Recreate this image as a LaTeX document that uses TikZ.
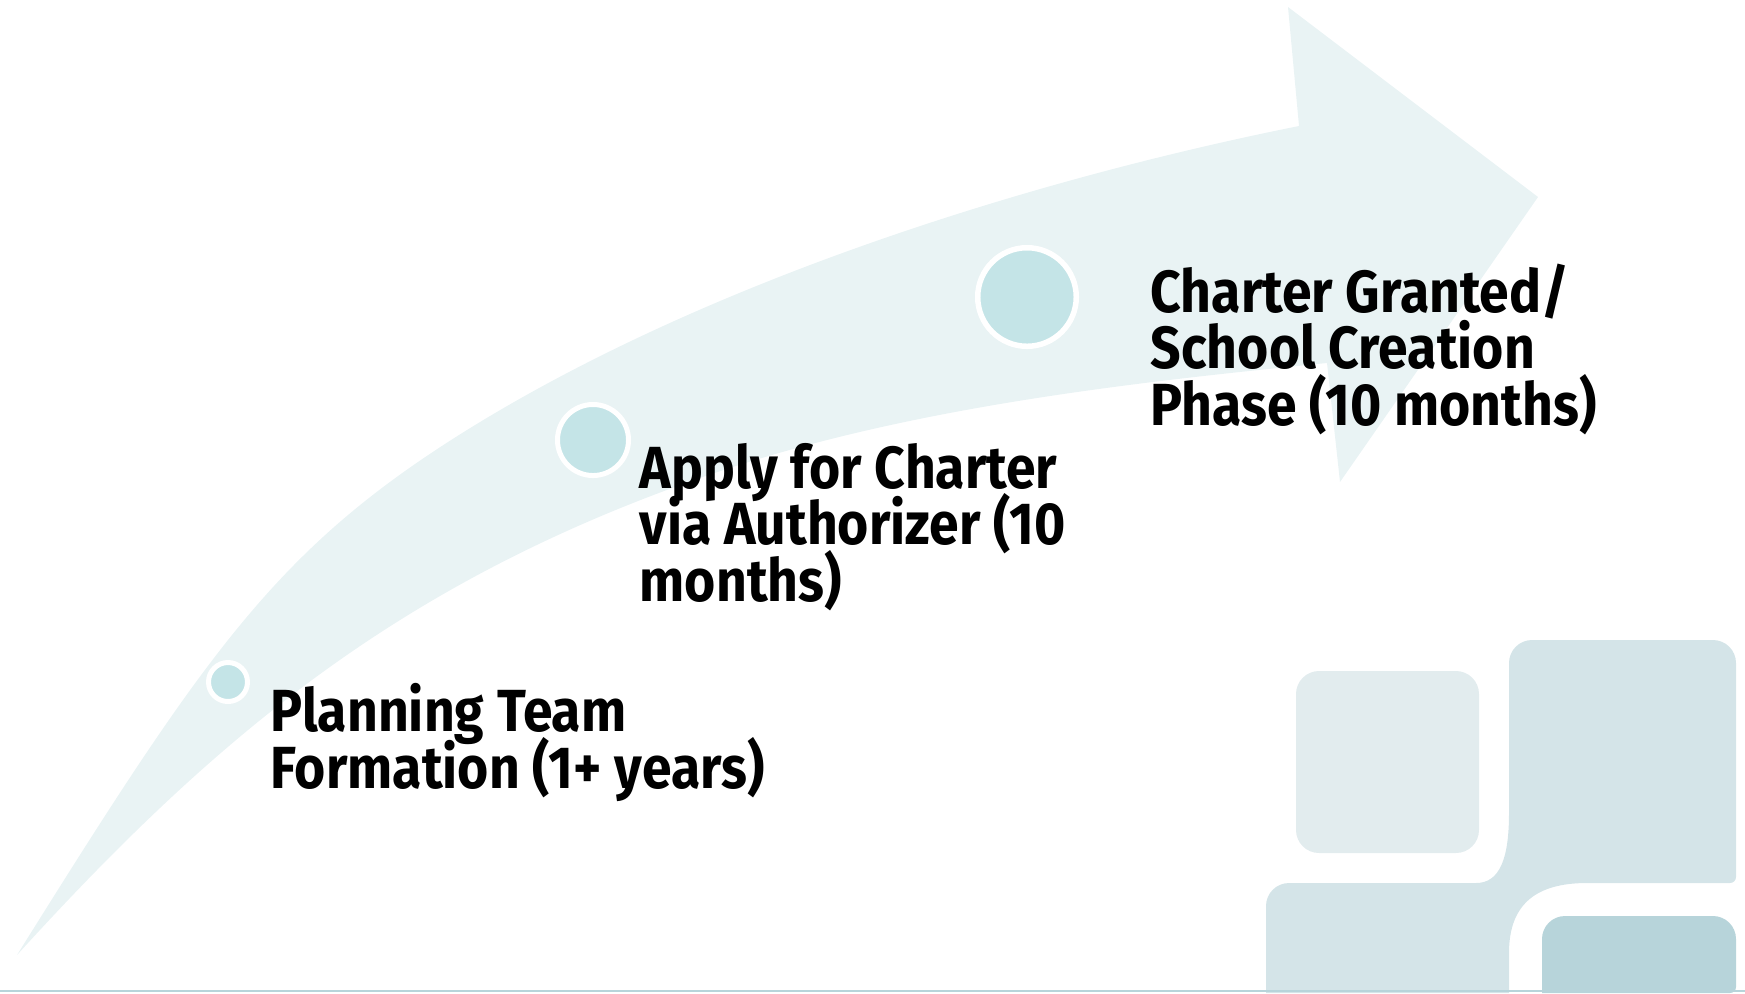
\documentclass[tikz,border=0pt]{standalone}
\usepackage{fontspec}
\setmainfont{Fira Sans}[FakeStretch=0.9]
\definecolor{bandcol}{RGB}{233,243,244}
\definecolor{dotcol}{RGB}{196,228,231}
\definecolor{tilelight}{RGB}{226,236,238}
\definecolor{tilemid}{RGB}{212,228,232}
\definecolor{tiledark}{RGB}{183,212,218}
\newcommand{\phasefont}{\fontsize{16.9}{15.94}\selectfont\bfseries\lineskiplimit=-20pt}

\begin{document}
\begin{tikzpicture}[x=0.01cm, y=-0.01cm, line cap=round,
    dot/.style={circle, fill=dotcol, draw=white, inner sep=0pt},
    phase/.style={anchor=base west, align=left, inner sep=0pt, font=\phasefont}]
        %\draw [step=1cm, very thin, lightgray] (0,0) grid (1745,993);
        \useasboundingbox (0,0) rectangle (1745,993);

        \fill [bandcol] (17,955) .. controls (207,651) and (277,548) .. (467,430)
        .. controls (717,275) and (1049,176) .. (1299,126)
        -- (1288,7) -- (1538,197) -- (1340,482) -- (1327,363)
        .. controls (1127,383) and (900,408) .. (700,478)
        .. controls (400,583) and (217,735) .. (17,955) -- cycle;

        \fill [tilelight, rounded corners=0.23cm] (1296,671) rectangle (1479,853);
        \fill [tilemid] (1266,993) [rounded corners=0.23cm] -- (1266,883) -- (1453,883) [sharp corners]
        .. controls (1500,883) and (1509,858) .. (1509,813) -- (1509,700) [rounded corners=0.23cm] --
        (1509,640) -- (1736,640) [rounded corners=0.06cm] -- (1736,883) -- (1593,883) [sharp corners]
        .. controls (1535,883) and (1509,905) .. (1509,953) -- (1509,993) -- cycle;
        \fill [tiledark] (1542,993) [rounded corners=0.23cm] -- (1542,916) -- (1736,916) [rounded corners=0.06cm] -- (1736,993) [sharp corners] -- cycle;
        \draw [tiledark, line width=0.02cm] (0,991) -- (1745,991);

        \node [dot, minimum size=0.39cm, line width=0.05cm] (dotplan) at (228,682) {};
        \node [dot, minimum size=0.71cm, line width=0.05cm] (dotapply) at (593,440) {};
        \node [dot, minimum size=0.985cm, line width=0.055cm] (dotgrant) at (1027,297) {};

        % base sits on the last line
        \node [phase] (plan) at (270,788) {Planning Team\\Formation (1+ years)};
        \node [phase] (apply) at (639,601) {Apply for Charter\\via Authorizer (10\\months)};
        \node [phase] (grant) at (1150,425) {Charter Granted/\\School Creation\\Phase (10 months)};
\end{tikzpicture}
\end{document}
